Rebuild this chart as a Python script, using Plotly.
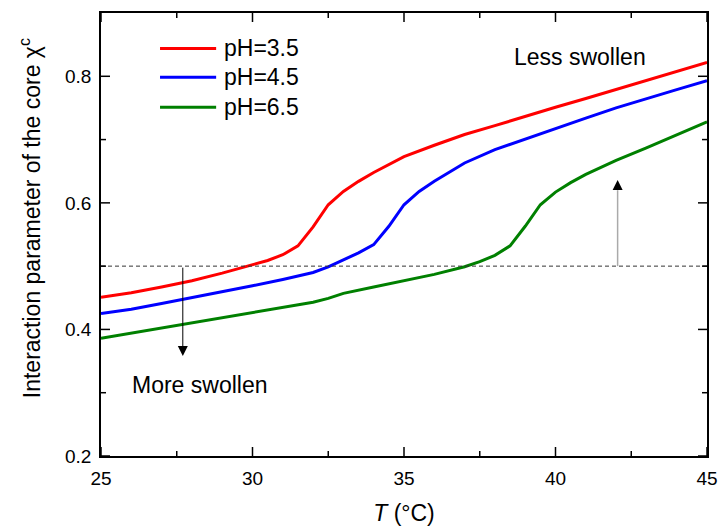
import plotly.graph_objects as go

# Temperature (°C) and interaction parameter chi^c
T_red = [25, 26, 27, 28, 29, 30, 30.5, 31, 31.5, 32, 32.5, 33, 33.5, 34, 34.5, 35, 36, 37, 38, 39, 40, 41, 42, 43, 44, 45]
chi_red = [0.451, 0.458, 0.467, 0.477, 0.489, 0.502, 0.509, 0.518, 0.532, 0.562, 0.597, 0.618, 0.634, 0.648, 0.661, 0.673, 0.691, 0.708, 0.722, 0.737, 0.751, 0.765, 0.779, 0.793, 0.808, 0.822]

T_blue = [25, 26, 27, 28, 29, 30, 31, 32, 32.5, 33, 33.5, 34, 34.5, 35, 35.5, 36, 36.5, 37, 38, 39, 40, 41, 42, 43, 44, 45]
chi_blue = [0.425, 0.432, 0.441, 0.450, 0.459, 0.469, 0.479, 0.490, 0.499, 0.510, 0.521, 0.534, 0.563, 0.597, 0.618, 0.634, 0.649, 0.663, 0.684, 0.701, 0.718, 0.734, 0.750, 0.765, 0.779, 0.793]

T_green = [25, 26, 27, 28, 29, 30, 31, 32, 32.5, 33, 34, 35, 36, 37, 37.5, 38, 38.5, 39, 39.5, 40, 40.5, 41, 42, 43, 44, 45]
chi_green = [0.386, 0.394, 0.403, 0.411, 0.419, 0.427, 0.435, 0.443, 0.449, 0.457, 0.467, 0.477, 0.487, 0.499, 0.507, 0.517, 0.532, 0.563, 0.597, 0.617, 0.632, 0.645, 0.667, 0.687, 0.708, 0.728]

series_names = ["pH=3.5", "pH=4.5", "pH=6.5"]
series_colors = ["#ff0000", "#0000ff", "#008000"]
threshold = 0.5

x_range = [25, 45]
y_range = [0.2, 0.9]
x_major = [25, 30, 35, 40, 45]
x_minor = [27.5, 32.5, 37.5, 42.5]
y_major = [0.2, 0.4, 0.6, 0.8]
y_minor = [0.3, 0.5, 0.7]

FONT = "Liberation Sans, Arial, sans-serif"
W, H = 718, 526
ML, MR, MT, MB = 101, 11, 13, 70
px_x = (x_range[1] - x_range[0]) / (W - ML - MR)   # data units per pixel
px_y = (y_range[1] - y_range[0]) / (H - MT - MB)

fig = go.Figure()
for xs, ys, name, col in zip([T_red, T_blue, T_green], [chi_red, chi_blue, chi_green], series_names, series_colors):
    fig.add_trace(go.Scatter(x=xs, y=ys, mode="lines", name=name,
                             line=dict(color=col, width=3), showlegend=False))

# dashed threshold line
fig.add_trace(go.Scatter(x=x_range, y=[threshold, threshold], mode="lines",
                         line=dict(color="#333333", width=1, dash="4px,3px"), showlegend=False,
                         hoverinfo="skip"))

# inside tick marks on all four sides (axis decoration)
tx, ty = [], []
for vals, ln in ((x_major, 9), (x_minor, 5)):
    for v in vals:
        tx += [v, v, None, v, v, None]
        ty += [y_range[0], y_range[0] + ln * px_y, None, y_range[1], y_range[1] - ln * px_y, None]
for vals, ln in ((y_major, 9), (y_minor, 5)):
    for v in vals:
        ty += [v, v, None, v, v, None]
        tx += [x_range[0], x_range[0] + ln * px_x, None, x_range[1], x_range[1] - ln * px_x, None]
fig.add_trace(go.Scatter(x=tx, y=ty, mode="lines", line=dict(color="black", width=1.5),
                         showlegend=False, hoverinfo="skip", connectgaps=False))

# manual legend
leg_y = [0.920, 0.855, 0.787]
for name, col, yy in zip(series_names, series_colors, leg_y):
    fig.add_shape(type="line", xref="paper", yref="paper", x0=0.0974, x1=0.190, y0=yy, y1=yy,
                  line=dict(color=col, width=3))
    fig.add_annotation(x=0.199, y=yy, xref="paper", yref="paper", text=name, showarrow=False,
                       xanchor="left", yanchor="middle", font=dict(family=FONT, size=23, color="black"))

# arrows
fig.add_annotation(x=27.7, y=0.358, ax=27.7, ay=threshold, xref="x", yref="y", axref="x", ayref="y",
                   text="", showarrow=True, arrowhead=2, arrowsize=2, arrowwidth=1, arrowcolor="black")
fig.add_shape(type="line", x0=42.05, x1=42.05, y0=threshold, y1=0.62, xref="x", yref="y",
              line=dict(color="#aaaaaa", width=1.5))
fig.add_annotation(x=42.05, y=0.636, ax=42.05, ay=0.62, xref="x", yref="y", axref="x", ayref="y",
                   text="", showarrow=True, arrowhead=2, arrowsize=2, arrowwidth=1, arrowcolor="black")

fig.add_annotation(x=40.81, y=0.831, xref="x", yref="y", text="Less swollen", showarrow=False,
                   font=dict(family=FONT, size=23, color="black"))
fig.add_annotation(x=28.27, y=0.312, xref="x", yref="y", text="More swollen", showarrow=False,
                   font=dict(family=FONT, size=23, color="black"))

# y title
fig.add_annotation(x=-0.117, y=0.537, xref="paper", yref="paper", textangle=-90,
                   text="Interaction parameter of the core χ<sup>c</sup>", showarrow=False,
                   xanchor="center", yanchor="middle", font=dict(family=FONT, size=23, color="black"))

axis_common = dict(showline=True, linecolor="black", linewidth=1.5, mirror=True,
                   ticks="", showgrid=False, zeroline=False, automargin=False,
                   tickfont=dict(family=FONT, size=19, color="black"))

fig.update_xaxes(range=x_range, tickvals=x_major, ticklabelstandoff=4,
                 title=dict(text="<i>T</i> (°C)", font=dict(family=FONT, size=23, color="black"), standoff=18),
                 **axis_common)
fig.update_yaxes(range=y_range, tickvals=y_major, tickformat=".1f", ticklabelstandoff=4,
                 **axis_common)

fig.update_layout(width=W, height=H, margin=dict(l=ML, r=MR, t=MT, b=MB),
                  plot_bgcolor="white", paper_bgcolor="white",
                  font=dict(family=FONT, color="black"))

fig.write_html("out.html")
